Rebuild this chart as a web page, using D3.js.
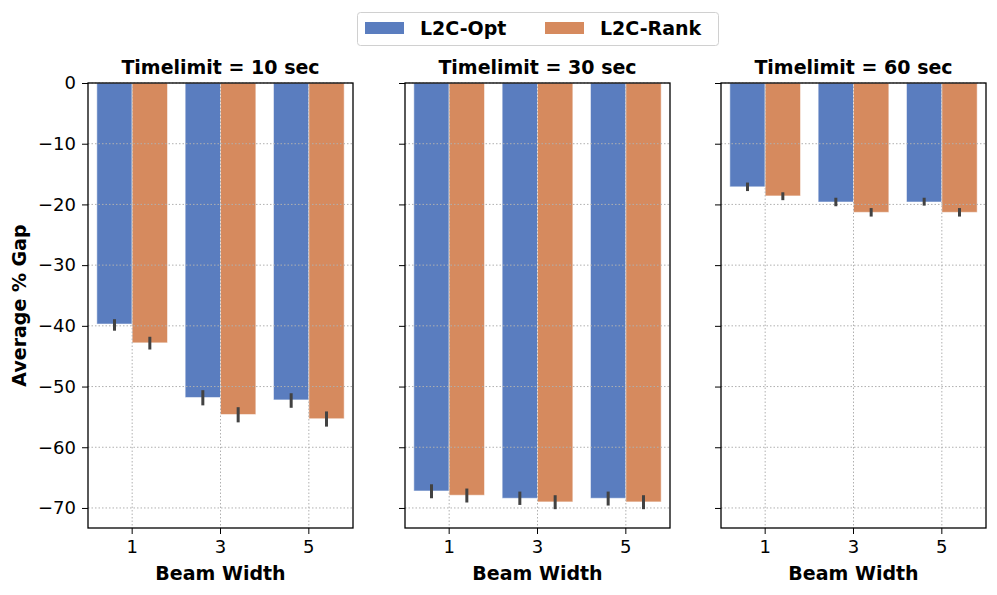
<!DOCTYPE html>
<html>
<head>
<meta charset="utf-8">
<title>Average % Gap by Beam Width</title>
<script src="https://cdn.jsdelivr.net/npm/d3@7"></script>
<style>
  body { margin: 0; background: #fff; }
  text { font-family: "DejaVu Sans", sans-serif; }
</style>
</head>
<body>
<script>
// data
var panels = ["Timelimit = 10 sec", "Timelimit = 30 sec", "Timelimit = 60 sec"];
var beams = ["1", "3", "5"];
var methods = ["L2C-Opt", "L2C-Rank"];
var colors = ["#5a7dbf", "#d68a5e"];
// mean values [panel][beam]
var meanOpt  = [[-39.7, -51.8, -52.2], [-67.2, -68.4, -68.4], [-17.1, -19.6, -19.6]];
var meanRank = [[-42.8, -54.6, -55.3], [-67.9, -69.0, -69.0], [-18.6, -21.3, -21.3]];
// error bar low / high
var errOpt  = [[[-38.9, -40.8], [-50.6, -53.1], [-51.1, -53.5]],
               [[-66.1, -68.4], [-67.3, -69.5], [-67.3, -69.6]],
               [[-16.4, -17.8], [-18.9, -20.3], [-18.9, -20.2]]];
var errRank = [[[-41.8, -43.9], [-53.4, -55.9], [-54.1, -56.6]],
               [[-66.8, -69.1], [-67.9, -70.2], [-67.9, -70.2]],
               [[-18.0, -19.3], [-20.6, -22.0], [-20.6, -22.0]]];
var yTicks = [0, -10, -20, -30, -40, -50, -60, -70];

var W = 997, H = 595;
var yTop = 83, yBot = 528;
var panelLeft = [88, 405, 721], panelW = 265;

var svg = d3.select("body").append("svg").attr("width", W).attr("height", H);

var y = d3.scaleLinear().domain([0, -73.3]).range([yTop, yBot]);

panels.forEach(function(title, p) {
  var g = svg.append("g").attr("transform", "translate(" + panelLeft[p] + ",0)");
  var x = d3.scaleBand().domain(beams).range([0, panelW]).padding(0);
  var xh = d3.scaleBand().domain(methods).range([0, x.bandwidth() * 0.8]);
  var off = x.bandwidth() * 0.1;

  var rows = [];
  beams.forEach(function(b, i) {
    rows.push({b: b, m: 0, v: meanOpt[p][i], e: errOpt[p][i]});
    rows.push({b: b, m: 1, v: meanRank[p][i], e: errRank[p][i]});
  });

  g.selectAll(".bar").data(rows).enter().append("rect")
    .attr("x", function(d) { return x(d.b) + off + xh(methods[d.m]); })
    .attr("y", y(0))
    .attr("width", xh.bandwidth())
    .attr("height", function(d) { return y(d.v) - y(0); })
    .attr("fill", function(d) { return colors[d.m]; })
    .attr("stroke", "#fff").attr("stroke-opacity", 0.5).attr("stroke-width", 1);

  // grid on top
  g.selectAll(".hg").data(yTicks).enter().append("line")
    .attr("x1", 0).attr("x2", panelW)
    .attr("y1", function(d) { return y(d); }).attr("y2", function(d) { return y(d); })
    .attr("stroke", "#b0b0b0").attr("stroke-width", 1).attr("stroke-dasharray", "1.5,2");
  g.selectAll(".vg").data(beams).enter().append("line")
    .attr("x1", function(d) { return x(d) + x.bandwidth() / 2; })
    .attr("x2", function(d) { return x(d) + x.bandwidth() / 2; })
    .attr("y1", yTop).attr("y2", yBot)
    .attr("stroke", "#b0b0b0").attr("stroke-width", 1).attr("stroke-dasharray", "1.5,2");

  g.selectAll(".err").data(rows).enter().append("line")
    .attr("x1", function(d) { return x(d.b) + off + xh(methods[d.m]) + xh.bandwidth() / 2; })
    .attr("x2", function(d) { return x(d.b) + off + xh(methods[d.m]) + xh.bandwidth() / 2; })
    .attr("y1", function(d) { return y(d.e[0]); })
    .attr("y2", function(d) { return y(d.e[1]); })
    .attr("stroke", "#424242").attr("stroke-width", 3);

  // axes
  var ya = d3.axisLeft(y).tickValues(yTicks).tickSize(6).tickPadding(6)
    .tickFormat(function(d) { return p === 0 ? String(d).replace("-", "\u2212") : ""; });
  var yg = g.append("g").call(ya);
  var xa = d3.axisBottom(x).tickSize(6).tickPadding(6);
  var xg = g.append("g").attr("transform", "translate(0," + yBot + ")").call(xa);
  [yg, xg].forEach(function(a) {
    a.select(".domain").remove();
    a.selectAll("text").attr("font-size", 18).attr("fill", "#000")
      .attr("font-family", "DejaVu Sans, sans-serif");
    a.selectAll("line").attr("stroke", "#000").attr("stroke-width", 1);
  });

  g.append("rect").attr("x", 0).attr("y", yTop).attr("width", panelW).attr("height", yBot - yTop)
    .attr("fill", "none").attr("stroke", "#000").attr("stroke-width", 1.3);

  g.append("text").attr("x", panelW / 2).attr("y", 74).attr("text-anchor", "middle")
    .attr("font-size", 19).attr("font-weight", "bold").text(title);
  g.append("text").attr("x", panelW / 2).attr("y", 580).attr("text-anchor", "middle")
    .attr("font-size", 19).attr("font-weight", "bold").text("Beam Width");
});

svg.append("text").attr("transform", "translate(26," + (yTop + yBot) / 2 + ") rotate(-90)")
  .attr("text-anchor", "middle").attr("font-size", 19).attr("font-weight", "bold")
  .text("Average % Gap");

// legend
var lg = svg.append("g");
lg.append("rect").attr("x", 357.5).attr("y", 12.5).attr("width", 361).attr("height", 33)
  .attr("rx", 3).attr("fill", "#fff").attr("stroke", "#d0d0d0");
var lx = [365, 545];
methods.forEach(function(m, i) {
  lg.append("rect").attr("x", lx[i]).attr("y", 22).attr("width", 39).attr("height", 12).attr("fill", colors[i]);
  lg.append("text").attr("x", lx[i] + 55).attr("y", 35).attr("font-size", 19)
    .attr("font-weight", "bold").text(m);
});
</script>
</body>
</html>
